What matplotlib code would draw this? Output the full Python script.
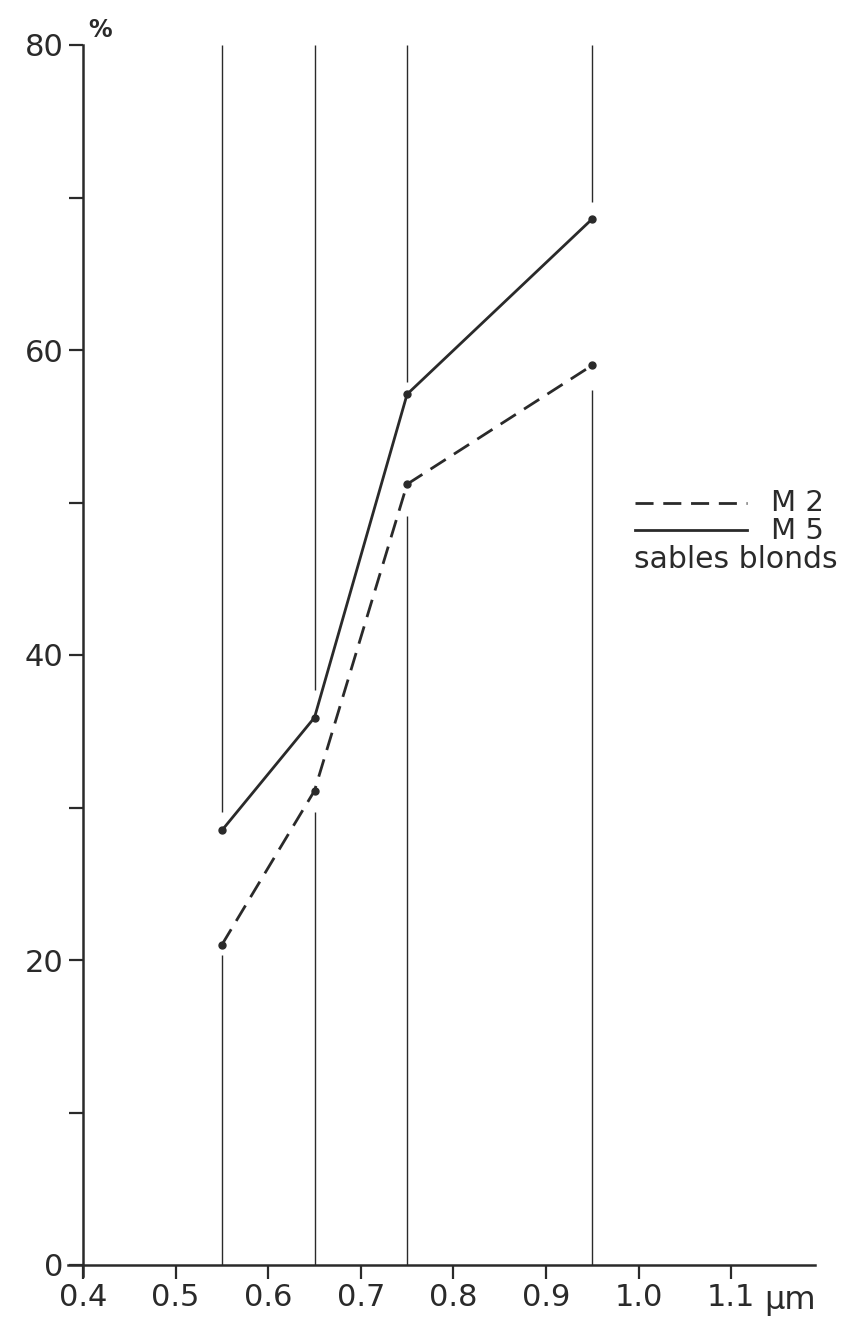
import numpy as np
import matplotlib
matplotlib.use("agg")
import matplotlib.pyplot as plt

plt.rcParams['font.family'] = ['DejaVu Sans']

# data
wavelength = [0.55, 0.65, 0.75, 0.95]
m2 = [21.0, 31.1, 51.2, 59.0]
m5 = [28.5, 35.9, 57.1, 68.6]
# vertical guide lines: lower part ends below M2, upper part starts above M5
guide_low = [20.3, 29.7, 49.1, 57.4]
guide_high = [29.7, 37.7, 57.9, 69.7]

yticks_major = [0, 20, 40, 60, 80]
yticks_minor = [10, 30, 50, 70]
xticks = [0.4, 0.5, 0.6, 0.7, 0.8, 0.9, 1.0, 1.1]
xlabels = ["0.4", "0.5", "0.6", "0.7", "0.8", "0.9", "1.0", "1.1"]

W, H = 841, 1324
fig = plt.figure(figsize=(W/100, H/100), dpi=100)
ax = fig.add_axes([83/W, 1-1265/H, (815-83)/W, (1265-45)/H])
xmax = 0.4+(815-83)/926.0
ax.set_xlim(0.4, xmax)
ax.set_ylim(0, 80)

ink = "#2a2a2a"

for s in ["top", "right", "left", "bottom"]:
    ax.spines[s].set_visible(False)

# axes drawn by hand so they overshoot the origin a little, like the drawing
ax.plot([0.4, 0.4], [-0.7, 80], color=ink, lw=1.8, clip_on=False)
ax.plot([0.384, xmax], [0, 0], color=ink, lw=1.8, clip_on=False)

ax.set_xticks(xticks)
ax.set_xticklabels(xlabels)
ax.set_yticks(yticks_major)
ax.set_yticks(yticks_minor, minor=True)
ax.tick_params(axis="both", which="both", direction="out", length=10, width=1.6,
               color=ink, labelcolor=ink, labelsize=22)
ax.tick_params(axis="y", pad=4)
ax.tick_params(axis="x", pad=3)

# vertical guide lines
for x, lo, hi in zip(wavelength, guide_low, guide_high):
    ax.plot([x, x], [0, lo], color=ink, lw=1.0, solid_capstyle="butt")
    ax.plot([x, x], [hi, 80], color=ink, lw=1.0, solid_capstyle="butt")

# series
ax.plot(wavelength, m2, color=ink, lw=2.0, dashes=(6.5, 3.5),
        marker="o", markersize=5, label="M 2")
ax.plot(wavelength, m5, color=ink, lw=2.0,
        marker="o", markersize=5, label="M 5")

# axis units
fig.text(100/W, 1-30/H, "%", fontsize=17, color=ink, ha="center", va="center",
         fontweight="bold")
fig.text(790/W, 1-1300/H, "\u03bcm", fontsize=23, color=ink, ha="center", va="center")

# hand-drawn legend
def fx(px):
    return px/W
def fy(py):
    return 1-py/H

fig.add_artist(plt.Line2D([fx(635), fx(747)], [fy(503), fy(503)], color=ink, lw=2.0,
                          dashes=(6.5, 3.5)))
fig.add_artist(plt.Line2D([fx(635), fx(747)], [fy(530), fy(530)], color=ink, lw=2.0))
fig.text(fx(771), fy(503), "M 2", fontsize=21, color=ink, va="center", ha="left")
fig.text(fx(771), fy(531), "M 5", fontsize=21, color=ink, va="center", ha="left")
fig.text(fx(634), fy(560), "sables blonds", fontsize=21.5, color=ink, va="center", ha="left")

fig.savefig("out.png", dpi=100, facecolor="white")
